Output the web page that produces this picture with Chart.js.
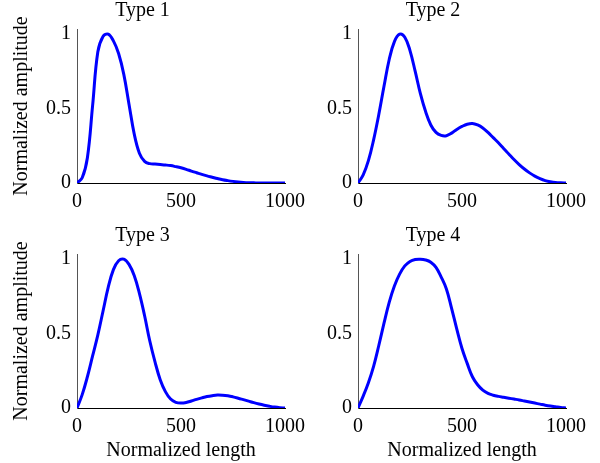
<!DOCTYPE html>
<html>
<head>
<meta charset="utf-8">
<script src="https://cdn.jsdelivr.net/npm/chart.js@4.4.0/dist/chart.umd.min.js"></script>
<style>
  html, body { margin: 0; padding: 0; background: #fff; overflow: hidden; }
  #wrap { position: relative; width: 600px; height: 463px; }
  canvas { position: absolute; }
</style>
</head>
<body>
<div id="wrap">
  <canvas id="chart1" width="338" height="230" style="left:0;top:0"></canvas>
  <canvas id="chart2" width="300" height="230" style="left:300px;top:0"></canvas>
  <canvas id="chart3" width="338" height="238" style="left:0;top:225px"></canvas>
  <canvas id="chart4" width="300" height="238" style="left:300px;top:225px"></canvas>
</div>
<script>
// normalized length (x), same for the 4 types
const lengths = [0, 25, 50, 75, 100, 125, 150, 175, 200, 225, 250, 275, 300, 325, 350, 375, 400, 425, 450, 475,
    500, 525, 550, 575, 600, 625, 650, 675, 700, 725, 750, 775, 800, 825, 850, 875, 900, 925, 950, 975, 1000];

const type1 = [0, 0.035, 0.17, 0.52, 0.88, 0.985, 1.0, 0.955, 0.87, 0.73, 0.53, 0.33, 0.2, 0.145, 0.13, 0.127,
    0.124, 0.121, 0.117, 0.11, 0.102, 0.092, 0.08, 0.069, 0.058, 0.048, 0.039, 0.03, 0.022, 0.016, 0.011, 0.007,
    0.004, 0.002, 0.001, 0, 0, 0, 0, 0, 0];
const type2 = [0, 0.055, 0.15, 0.29, 0.46, 0.65, 0.83, 0.95, 1.0, 0.98, 0.89, 0.75, 0.6, 0.48, 0.39, 0.34, 0.32,
    0.318, 0.335, 0.36, 0.38, 0.395, 0.4, 0.39, 0.37, 0.34, 0.305, 0.27, 0.232, 0.195, 0.158, 0.124, 0.094, 0.068,
    0.046, 0.029, 0.016, 0.008, 0.003, 0.001, 0];
const type3 = [0, 0.09, 0.21, 0.35, 0.49, 0.65, 0.81, 0.93, 0.99, 1.0, 0.965, 0.89, 0.77, 0.62, 0.45, 0.31, 0.19,
    0.11, 0.06, 0.038, 0.033, 0.037, 0.047, 0.058, 0.068, 0.077, 0.083, 0.087, 0.086, 0.082, 0.075, 0.066, 0.056,
    0.046, 0.036, 0.027, 0.019, 0.012, 0.006, 0.002, 0];
const type4 = [0, 0.08, 0.17, 0.28, 0.42, 0.57, 0.71, 0.82, 0.9, 0.955, 0.985, 0.998, 1.0, 0.995, 0.98, 0.945,
    0.88, 0.8, 0.67, 0.53, 0.4, 0.3, 0.21, 0.156, 0.12, 0.098, 0.086, 0.078, 0.072, 0.066, 0.06, 0.054, 0.047,
    0.04, 0.033, 0.026, 0.019, 0.013, 0.008, 0.003, 0];

const xTicks = [0, 500, 1000];
const yTicks = [0, 0.5, 1];
const titles = ["Type 1", "Type 2", "Type 3", "Type 4"];
const yLabel = "Normalized amplitude";
const xLabel = "Normalized length";

Chart.defaults.font.family = "'Liberation Serif', 'Times New Roman', serif";
Chart.defaults.font.size = 20;
Chart.defaults.color = "#000";

function makeChart(id, title, values, opts) {
    const canvas = document.querySelector(id);
    return new Chart(canvas, {
        type: "line",
        data: {
            datasets: [
                {
                    data: lengths.map((x, i) => ({ x: x, y: values[i] })),
                    borderColor: "#0000ff",
                    borderWidth: 3,
                    pointRadius: 0,
                    tension: 0.4,
                },
            ],
        },
        options: {
            responsive: false,
            animation: false,
            layout: { padding: { left: 0, top: 0, right: opts.padRight, bottom: 0 } },
            plugins: {
                legend: { display: false },
                tooltip: { enabled: false },
                title: {
                    display: true,
                    text: title,
                    color: "#000",
                    font: { size: 20, weight: "normal" },
                    padding: { top: -1, bottom: 6 },
                },
            },
            scales: {
                x: {
                    type: "linear",
                    min: 0,
                    max: 1000,
                    grid: { display: false, drawTicks: false },
                    border: { color: "#000", width: 1 },
                    ticks: { padding: 7, maxRotation: 0, autoSkip: false, callback: (v) => String(v) },
                    afterBuildTicks: (s) => { s.ticks = xTicks.map(v => ({ value: v })); },
                    afterFit: (s) => { s.height = opts.xHeight; s.paddingLeft = 0; s.paddingRight = 0; },
                    title: {
                        display: opts.xTitle,
                        text: xLabel,
                        font: { size: 20 },
                        padding: { top: 0, bottom: 0 },
                    },
                },
                y: {
                    min: 0,
                    max: 1.035,
                    grid: { display: false, drawTicks: false },
                    border: { color: "#555", width: 1 },
                    ticks: { padding: 6, callback: (v) => String(v) },
                    afterBuildTicks: (s) => { s.ticks = yTicks.map(v => ({ value: v })); },
                    afterFit: (s) => { s.width = opts.yWidth; s.paddingTop = 0; s.paddingBottom = 0; },
                    title: {
                        display: opts.yTitle,
                        text: yLabel,
                        font: { size: 20 },
                        padding: { top: 10, bottom: 0 },
                    },
                },
            },
        },
    });
}

const graph1 = makeChart("#chart1", titles[0], type1, { padRight: 53, yWidth: 77, xHeight: 47, yTitle: true, xTitle: false });
const graph2 = makeChart("#chart2", titles[1], type2, { padRight: 34, yWidth: 58, xHeight: 47, yTitle: false, xTitle: false });
const graph3 = makeChart("#chart3", titles[2], type3, { padRight: 53, yWidth: 77, xHeight: 55, yTitle: true, xTitle: true });
const graph4 = makeChart("#chart4", titles[3], type4, { padRight: 34, yWidth: 58, xHeight: 55, yTitle: false, xTitle: true });
</script>
</body>
</html>
